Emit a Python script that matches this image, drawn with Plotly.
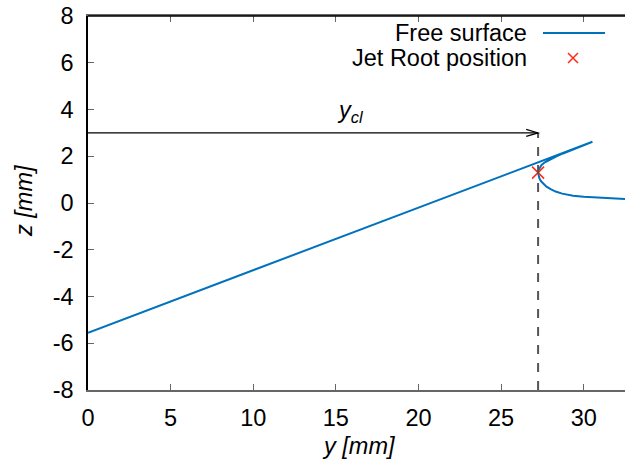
import plotly.graph_objects as go

# Free surface profile (y [mm], z [mm])
surf_y = [0.0, 30.53, 30.0, 29.5, 28.75, 28.35, 27.95, 27.65, 27.45, 27.33, 27.26, 27.24,
          27.26, 27.32, 27.42, 27.55, 27.75, 28.0, 28.3, 28.7, 29.36, 30.0, 30.77, 31.6, 32.5, 33.0]
surf_z = [-5.55, 2.62, 2.47, 2.33, 2.12, 2.00, 1.86, 1.74, 1.63, 1.51, 1.40, 1.30,
          1.18, 1.05, 0.93, 0.84, 0.70, 0.59, 0.49, 0.40, 0.31, 0.27, 0.23, 0.20, 0.17, 0.16]

# Jet root position
root_y = [27.24]
root_z = [1.30]

# Contact line position annotation
y_cl = 27.24
arrow_z = 3.0
label_y = 15.9

x_ticks = [0, 5, 10, 15, 20, 25, 30]
y_ticks = [-8, -6, -4, -2, 0, 2, 4, 6, 8]

BLUE = "#0072bd"
RED = "#ff2a1a"
FONT = "Liberation Sans, Arial, sans-serif"
FS = 23.5

fig = go.Figure()
fig.add_trace(go.Scatter(x=surf_y, y=surf_z, mode="lines",
                         line=dict(color=BLUE, width=2), showlegend=False))
fig.add_trace(go.Scatter(x=root_y, y=root_z, mode="markers",
                         marker=dict(symbol="x-thin", size=12, line=dict(color=RED, width=1.5)),
                         showlegend=False))

W, H = 537, 374
shapes = []
shapes.append(dict(type="line", xref="x", yref="y", x0=y_cl, x1=y_cl, y0=-8, y1=arrow_z,
                   line=dict(color="#555555", width=2, dash="dash")))
shapes.append(dict(type="line", xref="x", yref="y", x0=0, x1=y_cl, y0=arrow_z, y1=arrow_z,
                   line=dict(color="black", width=1.2)))
ah_dx = 0.72
ah_dz = 0.15
shapes.append(dict(type="path", xref="x", yref="y",
                   path=f"M {y_cl-ah_dx},{arrow_z+ah_dz} L {y_cl},{arrow_z} L {y_cl-ah_dx},{arrow_z-ah_dz}",
                   line=dict(color="black", width=1.2)))
shapes.append(dict(type="line", xref="paper", yref="paper", x0=0, x1=1, y0=1, y1=1,
                   line=dict(color="black", width=1.5)))
shapes.append(dict(type="line", xref="paper", yref="paper",
                   x0=(543-88)/W, x1=(605-88)/W, y0=(390-33)/H, y1=(390-33)/H,
                   line=dict(color=BLUE, width=2)))
cx, cy, h = (573-88)/W, (390-58)/H, 5
shapes.append(dict(type="path", xref="paper", yref="paper",
                   path=f"M {cx-h/W},{cy-h/H} L {cx+h/W},{cy+h/H} M {cx-h/W},{cy+h/H} L {cx+h/W},{cy-h/H}",
                   line=dict(color=RED, width=1.5)))

annotations = [
    dict(xref="paper", yref="paper", x=(529-88)/W, y=(390-33)/H, text="Free surface",
         showarrow=False, xanchor="right", yanchor="middle", font=dict(size=FS, color="black", family=FONT)),
    dict(xref="paper", yref="paper", x=(529-88)/W, y=(390-58)/H, text="Jet Root position",
         showarrow=False, xanchor="right", yanchor="middle", font=dict(size=FS, color="black", family=FONT)),
    dict(xref="x", yref="y", x=label_y, y=arrow_z + 0.2, text="<i>y<sub>cl</sub></i>",
         showarrow=False, xanchor="center", yanchor="bottom", font=dict(size=FS, color="black", family=FONT)),
    dict(xref="paper", yref="paper", x=(358-88)/W, y=-(446-390)/H, text="<i>y [mm]</i>",
         showarrow=False, xanchor="center", yanchor="middle", font=dict(size=FS, color="black", family=FONT)),
    dict(xref="paper", yref="paper", x=-(88-24)/W, y=(390-201)/H, text="<i>z [mm]</i>", textangle=-90,
         showarrow=False, xanchor="center", yanchor="middle", font=dict(size=FS, color="black", family=FONT)),
]

fig.update_layout(
    width=625, height=468,
    margin=dict(l=88, r=0, t=16, b=78, autoexpand=False),
    paper_bgcolor="white", plot_bgcolor="white",
    font=dict(family=FONT, size=FS, color="black"),
    shapes=shapes, annotations=annotations,
    xaxis=dict(range=[0, 32.5], tickvals=x_ticks, ticktext=[str(v) for v in x_ticks],
               ticks="inside", ticklen=6, tickcolor="#666666", automargin=False,
               showgrid=False, zeroline=False, showline=True, linecolor="#666666", linewidth=1.5,
               mirror="ticks", ticklabelstandoff=6),
    yaxis=dict(range=[-8, 8], tickvals=y_ticks, ticktext=[str(v) for v in y_ticks],
               ticks="inside", ticklen=6, tickcolor="#666666", automargin=False,
               showgrid=False, zeroline=False, showline=True, linecolor="black", linewidth=1.5,
               ticklabelstandoff=8),
)

fig.write_html("out.html", config={"displayModeBar": False},
               post_script="document.body.style.margin='0';document.body.style.overflow='hidden';")
